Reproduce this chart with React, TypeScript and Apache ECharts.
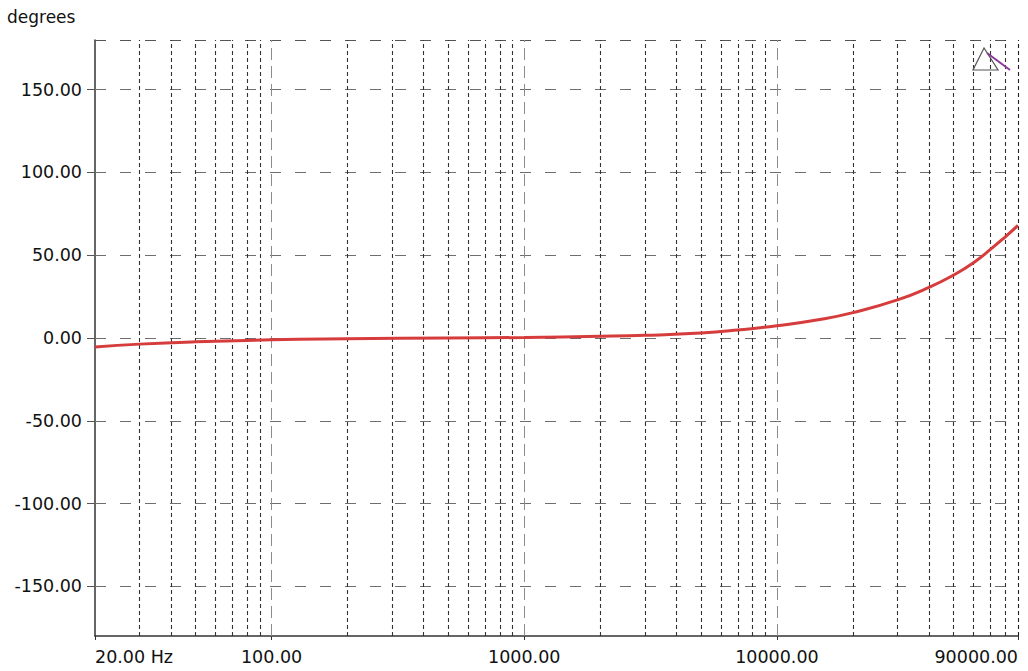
import React, { useEffect, useRef } from 'react';
import * as echarts from 'echarts';

// Phase response (Hz -> degrees)
const freqs = [20, 30, 50, 100, 200, 500, 1000, 2000, 3000, 5000, 7000, 10000, 15000, 20000, 30000, 40000, 50000, 60000, 70000, 80000, 90000];
const phase = [-5.4, -3.7, -2.3, -1.1, -0.5, 0, 0.3, 1.0, 1.6, 3.0, 4.8, 7.4, 11.3, 15.3, 23.0, 30.6, 38.0, 45.5, 53.5, 61.0, 68.0];

const yTicks = [-150, -100, -50, 0, 50, 100, 150];
const xLabelTicks = [20, 100, 1000, 10000, 90000];
const decadeLines = [100, 1000, 10000];
const minorLines = [
  30, 40, 50, 60, 70, 80, 90,
  200, 300, 400, 500, 600, 700, 800, 900,
  2000, 3000, 4000, 5000, 6000, 7000, 8000, 9000,
  20000, 30000, 40000, 50000, 60000, 70000, 80000
];

const FONT = 'DejaVu Sans';

const PhasePlot: React.FC = () => {
  const chartRef = useRef<HTMLDivElement>(null);

  useEffect(() => {
    document.body.style.margin = '0';
    if (!chartRef.current) return;
    const chart = echarts.init(chartRef.current, null, { renderer: 'svg' });

    const hStyle = { color: '#6e6e6e', type: [11, 14], width: 1 };
    const borderStyle = { color: '#555', type: [11, 14], width: 1.2 };
    const decadeStyle = { color: '#8c8c8c', type: [12, 6], width: 1 };
    const minorStyle = { color: '#333', type: [4, 3], width: 1.1 };

    const gridLines: any[] = [
      ...yTicks.map(v => ({ yAxis: v, lineStyle: hStyle })),
      { yAxis: 180, lineStyle: borderStyle },
      ...decadeLines.map(v => ({ xAxis: v, lineStyle: decadeStyle })),
      ...minorLines.map(v => ({ xAxis: v, lineStyle: minorStyle })),
      { xAxis: 90000, lineStyle: { ...minorStyle, color: '#222' } }
    ];

    chart.setOption({
      animation: false,
      backgroundColor: '#fff',
      title: {
        text: 'degrees',
        left: 7,
        top: 8,
        padding: 0,
        textStyle: { fontFamily: FONT, fontSize: 17, fontWeight: 'normal', color: '#111' }
      },
      grid: { left: 95, right: 10, top: 40, bottom: 35, containLabel: false },
      xAxis: {
        type: 'log',
        logBase: 10,
        min: 20,
        max: 90000,
        axisLine: { onZero: false, lineStyle: { color: '#333', width: 1.5 } },
        axisTick: { show: true, length: 4, lineStyle: { color: '#333' } },
        minorTick: { show: false },
        splitLine: { show: false },
        axisLabel: {
          margin: 12,
          fontFamily: FONT,
          fontSize: 17.5,
          color: '#111',
          showMinLabel: true,
          showMaxLabel: true,
          alignMinLabel: 'left',
          alignMaxLabel: 'right',
          formatter: (v: number) => {
            const r = Math.round(v);
            if (!xLabelTicks.includes(r)) return '';
            return r === 20 ? '20.00 Hz' : r.toFixed(2);
          }
        }
      },
      yAxis: {
        type: 'value',
        min: -180,
        max: 180,
        axisLine: { show: true, onZero: false, lineStyle: { color: '#333', width: 1.5 } },
        axisTick: { show: true, length: 8, customValues: yTicks, lineStyle: { color: '#555' } },
        splitLine: { show: false },
        axisLabel: {
          customValues: yTicks,
          margin: 13,
          fontFamily: FONT,
          fontSize: 17.5,
          color: '#111',
          formatter: (v: number) => v.toFixed(2)
        }
      },
      graphic: [
        {
          type: 'polygon',
          shape: { points: [[984, 48], [973, 70], [998, 70]] },
          style: { fill: 'none', stroke: '#555', lineWidth: 1.2 },
          z: 10
        },
        {
          type: 'line',
          shape: { x1: 987, y1: 53, x2: 1010, y2: 70 },
          style: { stroke: '#8a3a9a', lineWidth: 2 },
          z: 10
        }
      ],
      series: [
        {
          type: 'line',
          data: freqs.map((f, i) => [f, phase[i]]),
          smooth: true,
          symbol: 'none',
          z: 3,
          lineStyle: { color: '#d63c3c', width: 3 },
          markLine: {
            silent: true,
            z: 1,
            symbol: ['none', 'none'],
            label: { show: false },
            animation: false,
            data: gridLines
          }
        }
      ]
    });

    return () => chart.dispose();
  }, []);

  return <div ref={chartRef} style={{ width: '1028px', height: '671px' }}></div>;
};

export default function App() {
  return <PhasePlot />;
}
